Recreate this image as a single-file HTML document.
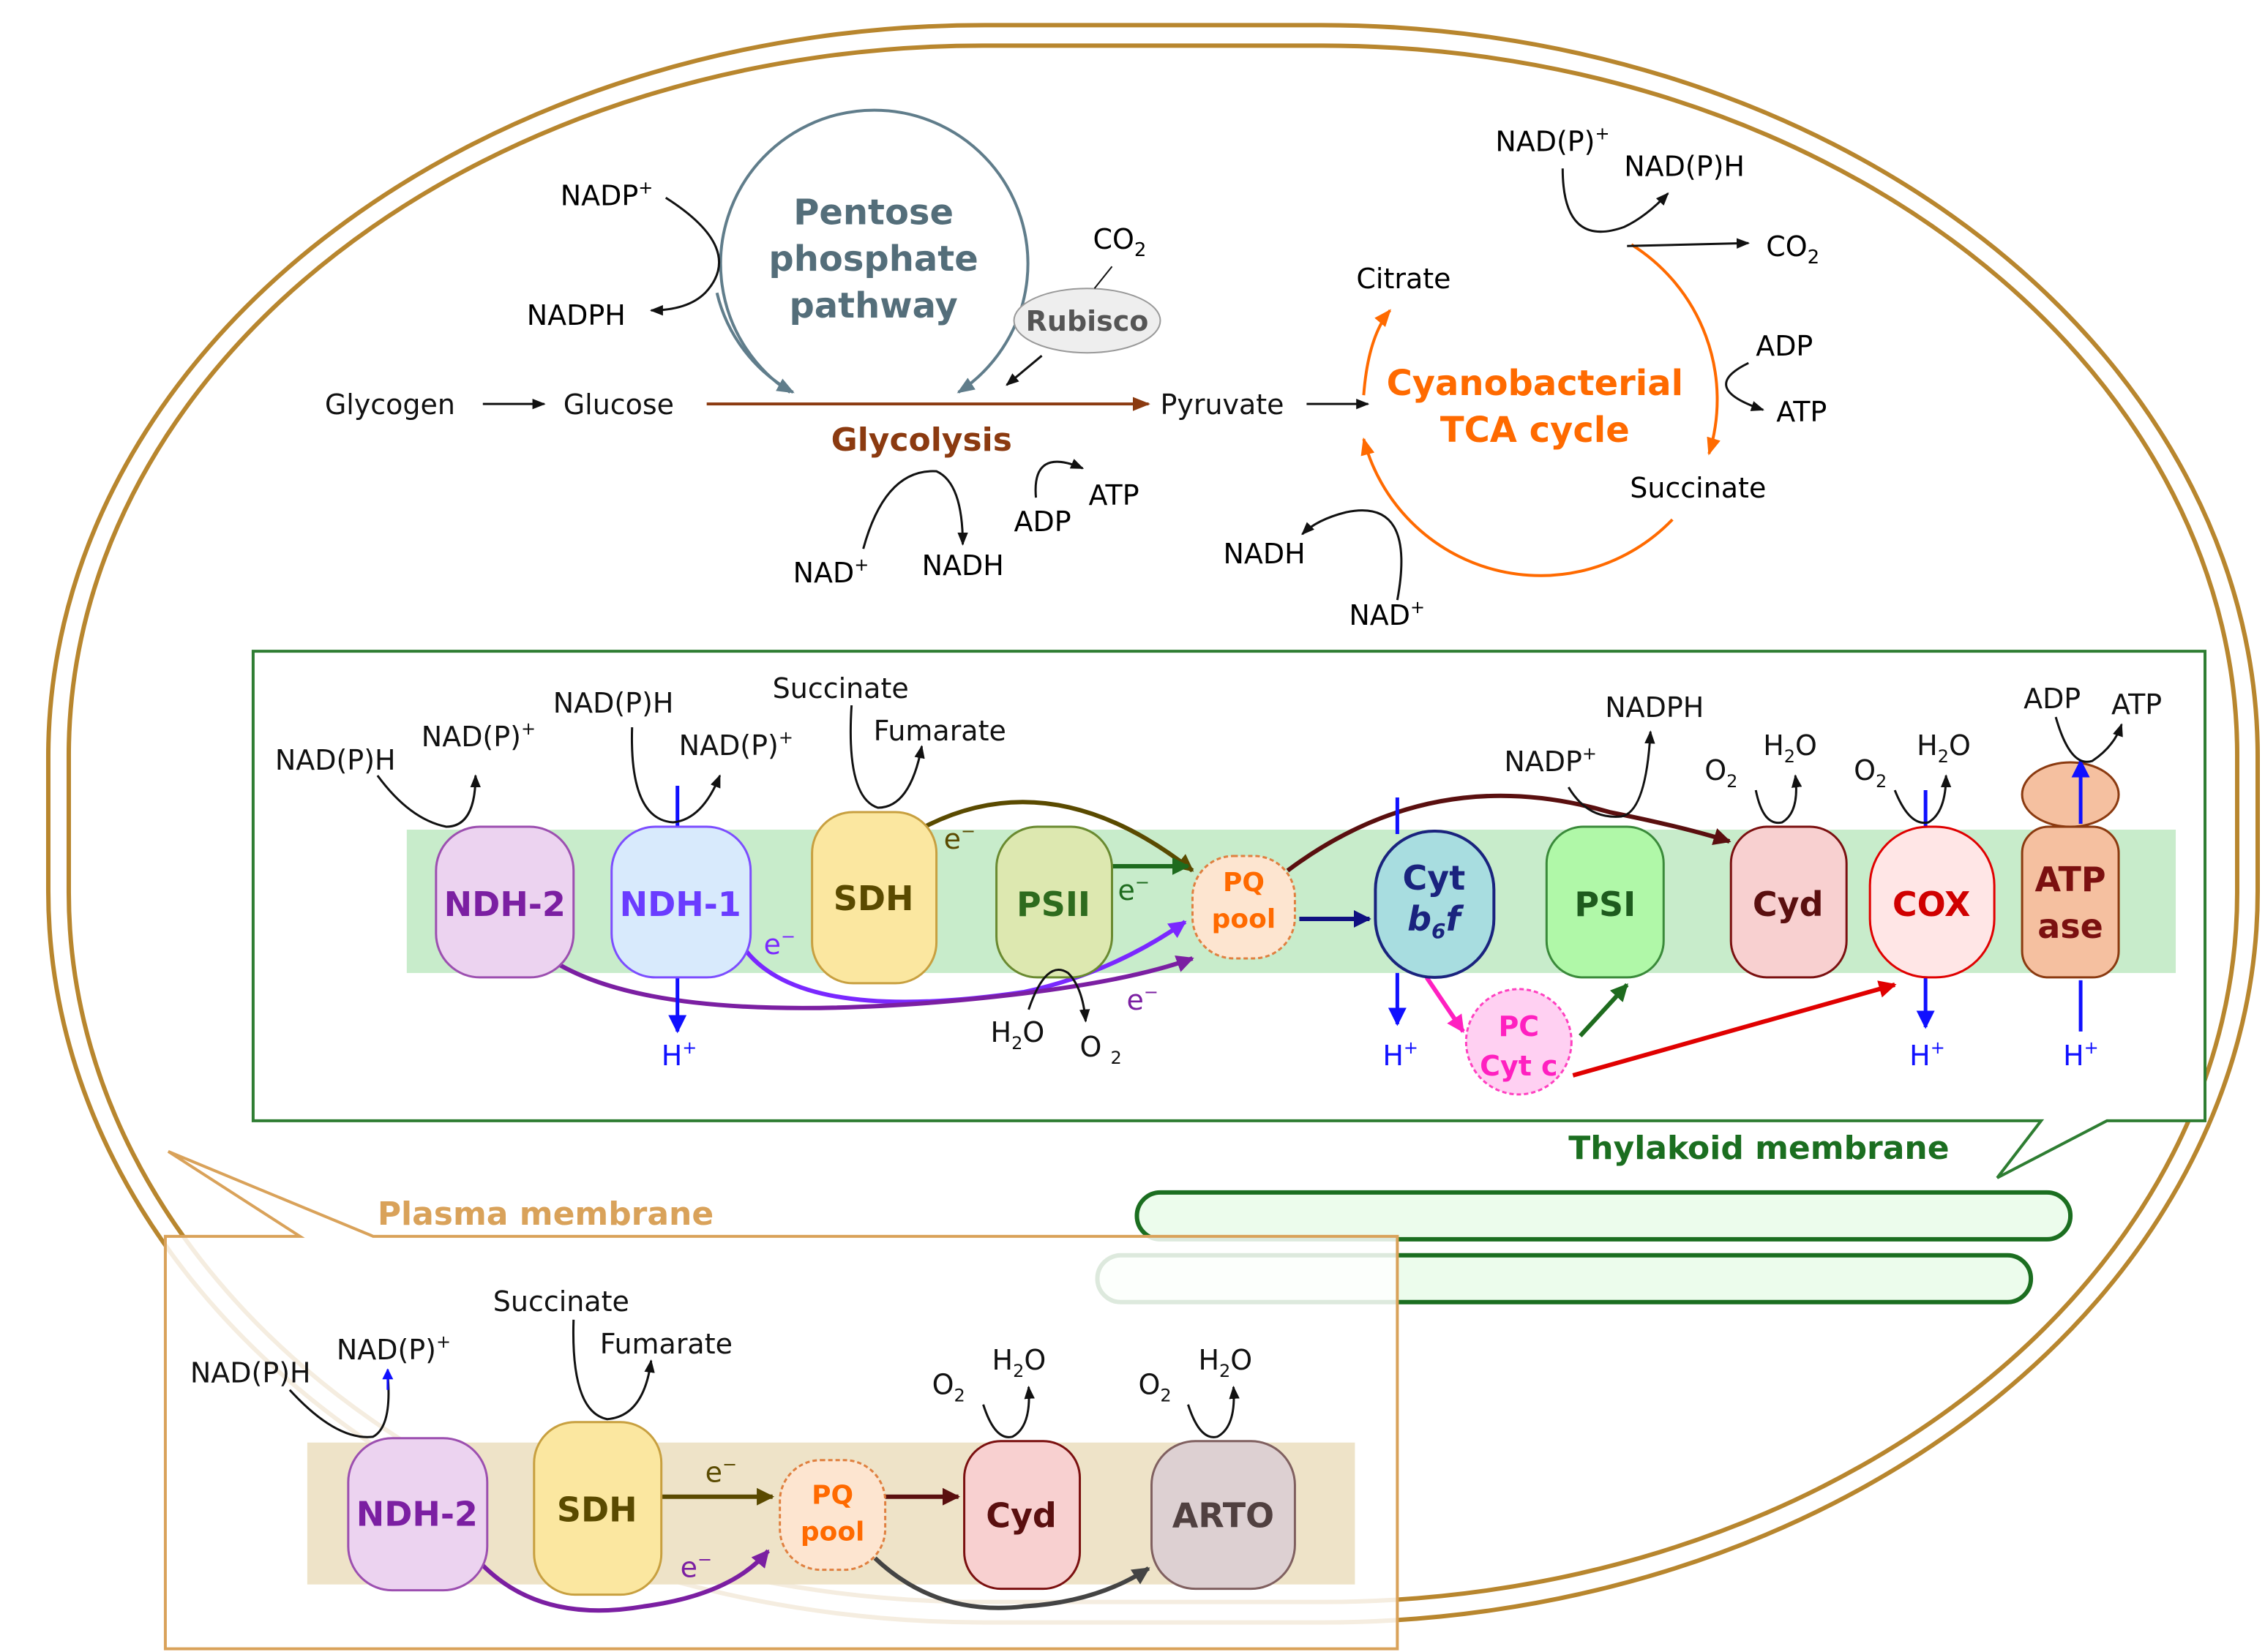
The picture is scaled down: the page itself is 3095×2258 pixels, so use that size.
<!DOCTYPE html>
<html><head><meta charset="utf-8"><style>
html,body{margin:0;padding:0;background:#fff}
svg{display:block}
text{font-family:"DejaVu Sans","Liberation Sans",sans-serif}
</style></head><body>
<svg width="3095" height="2258" viewBox="0 0 1548 1129" xmlns="http://www.w3.org/2000/svg">
<defs>
<marker id="ak" viewBox="0 0 10 10" refX="9" refY="5" markerWidth="6" markerHeight="6" orient="auto"><path d="M0,1 L10,5 L0,9 z" fill="#111"/></marker>
<marker id="ab" viewBox="0 0 10 10" refX="9" refY="5" markerWidth="5" markerHeight="5" orient="auto"><path d="M0,0 L10,5 L0,10 z" fill="#1010ff"/></marker>
<marker id="ag" viewBox="0 0 10 10" refX="9" refY="5" markerWidth="6" markerHeight="6" orient="auto"><path d="M0,1 L10,5 L0,9 z" fill="#607d8b"/></marker>
<marker id="ao" viewBox="0 0 10 10" refX="9" refY="5" markerWidth="6" markerHeight="6" orient="auto"><path d="M0,1 L10,5 L0,9 z" fill="#ff6a00"/></marker>
<marker id="abr" viewBox="0 0 10 10" refX="9" refY="5" markerWidth="6" markerHeight="6" orient="auto"><path d="M0,1 L10,5 L0,9 z" fill="#8b3a10"/></marker>
<marker id="am" viewBox="0 0 10 10" refX="9" refY="5" markerWidth="4" markerHeight="4" orient="auto"><path d="M0,0 L10,5 L0,10 z" fill="#5a0f0f"/></marker>
<marker id="aol" viewBox="0 0 10 10" refX="9" refY="5" markerWidth="4" markerHeight="4" orient="auto"><path d="M0,0 L10,5 L0,10 z" fill="#5a4a00"/></marker>
<marker id="apu" viewBox="0 0 10 10" refX="9" refY="5" markerWidth="4" markerHeight="4" orient="auto"><path d="M0,0 L10,5 L0,10 z" fill="#7b1fa2"/></marker>
<marker id="avi" viewBox="0 0 10 10" refX="9" refY="5" markerWidth="4" markerHeight="4" orient="auto"><path d="M0,0 L10,5 L0,10 z" fill="#7a28ff"/></marker>
<marker id="agr" viewBox="0 0 10 10" refX="9" refY="5" markerWidth="4" markerHeight="4" orient="auto"><path d="M0,0 L10,5 L0,10 z" fill="#1e6b1e"/></marker>
<marker id="anv" viewBox="0 0 10 10" refX="9" refY="5" markerWidth="4" markerHeight="4" orient="auto"><path d="M0,0 L10,5 L0,10 z" fill="#101080"/></marker>
<marker id="amg" viewBox="0 0 10 10" refX="9" refY="5" markerWidth="4" markerHeight="4" orient="auto"><path d="M0,0 L10,5 L0,10 z" fill="#ff20c0"/></marker>
<marker id="ard" viewBox="0 0 10 10" refX="9" refY="5" markerWidth="4" markerHeight="4" orient="auto"><path d="M0,0 L10,5 L0,10 z" fill="#e00000"/></marker>
<marker id="agy" viewBox="0 0 10 10" refX="9" refY="5" markerWidth="4" markerHeight="4" orient="auto"><path d="M0,0 L10,5 L0,10 z" fill="#444"/></marker>
</defs>

<!-- cell -->
<rect x="33" y="17" width="1510" height="1092" rx="640" ry="500" fill="none" stroke="#b8862e" stroke-width="3"/>
<rect x="47" y="31" width="1482" height="1064" rx="625" ry="485" fill="none" stroke="#b8862e" stroke-width="3"/>

<!-- top metabolism -->
<g font-size="19" fill="#111">
<text x="222" y="283">Glycogen</text>
<line x1="330" y1="276" x2="372" y2="276" stroke="#111" stroke-width="1.5" marker-end="url(#ak)"/>
<text x="385" y="283">Glucose</text>
<line x1="483" y1="276" x2="785" y2="276" stroke="#8b3a10" stroke-width="2" marker-end="url(#abr)"/>
<text x="568" y="308" font-weight="bold" font-size="22" fill="#8b3a10">Glycolysis</text>
<text x="793" y="283">Pyruvate</text>
<line x1="893" y1="276" x2="935" y2="276" stroke="#111" stroke-width="1.5" marker-end="url(#ak)"/>
</g>
<path d="M540,268 A105,105 0 1 1 655,268" fill="none" stroke="#607d8b" stroke-width="2" marker-end="url(#ag)"/>
<path d="M490,200 A105,105 0 0 0 542,268" fill="none" stroke="#607d8b" stroke-width="2" marker-end="url(#ag)"/>
<g font-size="24" font-weight="bold" fill="#546e7a" text-anchor="middle">
<text x="597" y="153">Pentose</text><text x="597" y="185">phosphate</text><text x="597" y="217">pathway</text>
</g>
<ellipse cx="743" cy="219" rx="50" ry="22" fill="#eee" stroke="#999"/>
<text x="743" y="226" font-size="19" font-weight="bold" fill="#555" text-anchor="middle">Rubisco</text>
<text x="747" y="170" font-size="19">CO<tspan font-size="13" dy="5">2</tspan></text>
<line x1="760" y1="182" x2="748" y2="197" stroke="#111"/>
<line x1="712" y1="243" x2="688" y2="263" stroke="#111" stroke-width="1.5" marker-end="url(#ak)"/>
<text x="383" y="140" font-size="19">NADP<tspan font-size="12" dy="-8">+</tspan></text>
<text x="360" y="222" font-size="19">NADPH</text>
<path d="M455,135 Q510,170 482,200 Q470,212 445,212" fill="none" stroke="#111" stroke-width="1.5" marker-end="url(#ak)"/>
<text x="542" y="398" font-size="19">NAD<tspan font-size="12" dy="-8">+</tspan></text>
<text x="630" y="393" font-size="19">NADH</text>
<path d="M590,375 Q605,320 640,322 Q658,330 658,372" fill="none" stroke="#111" stroke-width="1.5" marker-end="url(#ak)"/>
<text x="693" y="363" font-size="19">ADP</text>
<text x="744" y="345" font-size="19">ATP</text>
<path d="M708,340 Q705,305 740,320" fill="none" stroke="#111" stroke-width="1.5" marker-end="url(#ak)"/>

<!-- TCA -->
<path d="M1115,167 A125,125 0 0 1 1168,310" fill="none" stroke="#ff6a00" stroke-width="2" marker-end="url(#ao)"/>
<path d="M1143,355 A125,125 0 0 1 932,300" fill="none" stroke="#ff6a00" stroke-width="2" marker-end="url(#ao)"/>
<path d="M932,270 Q935,230 950,212" fill="none" stroke="#ff6a00" stroke-width="2" marker-end="url(#ao)"/>
<g font-size="24" font-weight="bold" fill="#ff6a00" text-anchor="middle">
<text x="1049" y="270">Cyanobacterial</text><text x="1049" y="302">TCA cycle</text>
</g>
<text x="927" y="197" font-size="19">Citrate</text>
<text x="1114" y="340" font-size="19">Succinate</text>
<text x="1022" y="103" font-size="19">NAD(P)<tspan font-size="12" dy="-8">+</tspan></text>
<text x="1110" y="120" font-size="19">NAD(P)H</text>
<path d="M1068,115 Q1068,170 1110,155 Q1125,148 1140,132" fill="none" stroke="#111" stroke-width="1.5" marker-end="url(#ak)"/>
<line x1="1112" y1="168" x2="1195" y2="166" stroke="#111" stroke-width="1.5" marker-end="url(#ak)"/>
<text x="1207" y="175" font-size="19">CO<tspan font-size="13" dy="5">2</tspan></text>
<text x="1200" y="243" font-size="19">ADP</text>
<text x="1214" y="288" font-size="19">ATP</text>
<path d="M1195,248 Q1160,265 1205,280" fill="none" stroke="#111" stroke-width="1.5" marker-end="url(#ak)"/>
<text x="836" y="385" font-size="19">NADH</text>
<text x="922" y="427" font-size="19">NAD<tspan font-size="12" dy="-8">+</tspan></text>
<path d="M955,410 Q968,340 920,350 Q900,355 890,365" fill="none" stroke="#111" stroke-width="1.5" marker-end="url(#ak)"/>

<!-- Thylakoid box -->
<path d="M173,445 H1507 V766 H1440 L1365,805 L1395,766 H173 Z" fill="#fff" stroke="#2e7d32" stroke-width="2"/>
<text x="1072" y="792" font-size="22" font-weight="bold" fill="#1b6e20">Thylakoid membrane</text>
<rect x="278" y="567" width="1209" height="98" fill="#c8eccb"/>
<rect x="777" y="815" width="638" height="32" rx="16" fill="#ecfcec" stroke="#1b6e20" stroke-width="3"/>
<rect x="750" y="858" width="638" height="32" rx="16" fill="#ecfcec" stroke="#1b6e20" stroke-width="3"/>

<path d="M632,565 Q720,520 815,595" fill="none" stroke="#5a4a00" stroke-width="3" marker-end="url(#aol)"/>
<text x="645" y="580" font-size="19" fill="#5a4a00">e<tspan font-size="12" dy="-8">−</tspan></text>
<line x1="760" y1="592" x2="812" y2="592" stroke="#1e6b1e" stroke-width="3" marker-end="url(#agr)"/>
<text x="764" y="615" font-size="19" fill="#1e6b1e">e<tspan font-size="12" dy="-8">−</tspan></text>
<path d="M510,650 Q550,700 700,678 Q760,665 810,630" fill="none" stroke="#7a28ff" stroke-width="3" marker-end="url(#avi)"/>
<text x="522" y="652" font-size="19" fill="#7a28ff">e<tspan font-size="12" dy="-8">−</tspan></text>
<path d="M380,658 Q450,700 640,685 Q760,675 815,655" fill="none" stroke="#7b1fa2" stroke-width="3" marker-end="url(#apu)"/>
<text x="770" y="690" font-size="19" fill="#7b1fa2">e<tspan font-size="12" dy="-8">−</tspan></text>
<path d="M880,595 Q980,520 1100,555 Q1150,565 1182,575" fill="none" stroke="#5a0f0f" stroke-width="3" marker-end="url(#am)"/>
<line x1="888" y1="628" x2="936" y2="628" stroke="#101080" stroke-width="3" marker-end="url(#anv)"/>
<line x1="975" y1="668" x2="1000" y2="705" stroke="#ff20c0" stroke-width="3" marker-end="url(#amg)"/>
<line x1="1080" y1="708" x2="1112" y2="673" stroke="#1e6b1e" stroke-width="3" marker-end="url(#agr)"/>
<line x1="1075" y1="735" x2="1295" y2="673" stroke="#e00000" stroke-width="3" marker-end="url(#ard)"/>

<g stroke="#1010ff" stroke-width="2.5">
<line x1="463" y1="537" x2="463" y2="565"/>
<line x1="463" y1="668" x2="463" y2="705" marker-end="url(#ab)"/>
<line x1="955" y1="545" x2="955" y2="570"/>
<line x1="955" y1="665" x2="955" y2="700" marker-end="url(#ab)"/>
<line x1="1316" y1="540" x2="1316" y2="565"/>
<line x1="1316" y1="668" x2="1316" y2="702" marker-end="url(#ab)"/>
<line x1="1422" y1="705" x2="1422" y2="670"/>
</g>
<g font-size="19" fill="#1010ff">
<text x="452" y="728">H<tspan font-size="12" dy="-8">+</tspan></text>
<text x="945" y="728">H<tspan font-size="12" dy="-8">+</tspan></text>
<text x="1305" y="728">H<tspan font-size="12" dy="-8">+</tspan></text>
<text x="1410" y="728">H<tspan font-size="12" dy="-8">+</tspan></text>
</g>

<rect x="298" y="565" width="94" height="103" rx="30" fill="#ecd3f0" stroke="#9c4fb0" stroke-width="1.5"/>
<text x="345" y="626" font-size="23" font-weight="bold" fill="#7b1fa2" text-anchor="middle">NDH-2</text>
<rect x="418" y="565" width="95" height="103" rx="30" fill="#d8eafc" stroke="#7c4dff" stroke-width="1.5"/>
<text x="465" y="626" font-size="23" font-weight="bold" fill="#6a3cff" text-anchor="middle">NDH-1</text>
<rect x="555" y="555" width="85" height="117" rx="28" fill="#fbe7a0" stroke="#c8a040" stroke-width="1.5"/>
<text x="597" y="622" font-size="23" font-weight="bold" fill="#5a4a00" text-anchor="middle">SDH</text>
<rect x="681" y="565" width="79" height="103" rx="28" fill="#dde8b0" stroke="#6a8a30" stroke-width="1.5"/>
<text x="720" y="626" font-size="23" font-weight="bold" fill="#2e6b1e" text-anchor="middle">PSII</text>
<rect x="815" y="585" width="70" height="70" rx="28" fill="#fde5d0" stroke="#e08040" stroke-width="1.5" stroke-dasharray="3,2"/>
<text x="850" y="609" font-size="18" font-weight="bold" fill="#ff6a00" text-anchor="middle">PQ</text>
<text x="850" y="634" font-size="18" font-weight="bold" fill="#ff6a00" text-anchor="middle">pool</text>
<rect x="940" y="568" width="81" height="100" rx="40" fill="#a8dde0" stroke="#1a237e" stroke-width="2"/>
<text x="980" y="608" font-size="23" font-weight="bold" fill="#1a237e" text-anchor="middle">Cyt</text>
<text x="980" y="636" font-size="23" font-weight="bold" font-style="italic" fill="#1a237e" text-anchor="middle">b<tspan font-size="14" dy="5">6</tspan><tspan dy="-5">f</tspan></text>
<rect x="1057" y="565" width="80" height="103" rx="25" fill="#b0f8a8" stroke="#3a8a3a" stroke-width="1.5"/>
<text x="1097" y="626" font-size="23" font-weight="bold" fill="#1e5b1e" text-anchor="middle">PSI</text>
<rect x="1183" y="565" width="79" height="103" rx="25" fill="#f8d0d0" stroke="#7b1010" stroke-width="1.5"/>
<text x="1222" y="626" font-size="23" font-weight="bold" fill="#5a0f0f" text-anchor="middle">Cyd</text>
<rect x="1278" y="565" width="85" height="103" rx="40" fill="#ffe6e6" stroke="#e00000" stroke-width="1.5"/>
<text x="1320" y="626" font-size="23" font-weight="bold" fill="#d00000" text-anchor="middle">COX</text>
<ellipse cx="1415" cy="543" rx="33" ry="22" fill="#f5c0a0" stroke="#8b3a10" stroke-width="1.5"/>
<rect x="1382" y="565" width="66" height="103" rx="18" fill="#f5c0a0" stroke="#8b3a10" stroke-width="1.5"/>
<text x="1415" y="609" font-size="23" font-weight="bold" fill="#7b1010" text-anchor="middle">ATP</text>
<text x="1415" y="641" font-size="23" font-weight="bold" fill="#7b1010" text-anchor="middle">ase</text>
<line x1="1422" y1="563" x2="1422" y2="520" stroke="#1010ff" stroke-width="2.5" marker-end="url(#ab)"/>
<circle cx="1038" cy="712" r="36" fill="#ffd0f2" stroke="#ff40c0" stroke-width="1.5" stroke-dasharray="3,2"/>
<text x="1038" y="708" font-size="19" font-weight="bold" fill="#ff20c0" text-anchor="middle">PC</text>
<text x="1038" y="735" font-size="19" font-weight="bold" fill="#ff20c0" text-anchor="middle">Cyt c</text>

<g font-size="19" fill="#111">
<text x="188" y="526">NAD(P)H</text>
<text x="288" y="510">NAD(P)<tspan font-size="12" dy="-8">+</tspan></text>
<path d="M258,530 Q280,560 305,565 Q325,565 325,530" fill="none" stroke="#111" stroke-width="1.5" marker-end="url(#ak)"/>
<text x="378" y="487">NAD(P)H</text>
<text x="464" y="516">NAD(P)<tspan font-size="12" dy="-8">+</tspan></text>
<path d="M432,497 Q430,560 460,562 Q480,560 492,530" fill="none" stroke="#111" stroke-width="1.5" marker-end="url(#ak)"/>
<text x="528" y="477">Succinate</text>
<text x="597" y="506">Fumarate</text>
<path d="M582,482 Q578,545 600,552 Q622,552 630,510" fill="none" stroke="#111" stroke-width="1.5" marker-end="url(#ak)"/>
<text x="677" y="712">H<tspan font-size="12" dy="5">2</tspan><tspan dy="-5">O</tspan></text>
<text x="738" y="722">O <tspan font-size="12" dy="5">2</tspan></text>
<path d="M703,690 Q715,655 730,665 Q740,675 742,698" fill="none" stroke="#111" stroke-width="1.5" marker-end="url(#ak)"/>
<text x="1097" y="490">NADPH</text>
<text x="1028" y="527">NADP<tspan font-size="12" dy="-8">+</tspan></text>
<path d="M1072,538 Q1085,560 1108,558 Q1125,555 1128,500" fill="none" stroke="#111" stroke-width="1.5" marker-end="url(#ak)"/>
<text x="1165" y="533">O<tspan font-size="12" dy="5">2</tspan></text>
<text x="1205" y="516">H<tspan font-size="12" dy="5">2</tspan><tspan dy="-5">O</tspan></text>
<path d="M1200,540 Q1205,565 1218,562 Q1230,555 1227,530" fill="none" stroke="#111" stroke-width="1.5" marker-end="url(#ak)"/>
<text x="1267" y="533">O<tspan font-size="12" dy="5">2</tspan></text>
<text x="1310" y="516">H<tspan font-size="12" dy="5">2</tspan><tspan dy="-5">O</tspan></text>
<path d="M1295,540 Q1305,565 1318,562 Q1330,555 1330,530" fill="none" stroke="#111" stroke-width="1.5" marker-end="url(#ak)"/>
<text x="1383" y="484">ADP</text>
<text x="1443" y="488">ATP</text>
<path d="M1405,490 Q1415,525 1430,520 Q1445,510 1450,495" fill="none" stroke="#111" stroke-width="1.5" marker-end="url(#ak)"/>
</g>

<!-- Plasma box -->
<path d="M113,845 H205 L115,787 L255,845 H955 V1127 H113 Z" fill="#fff" fill-opacity="0.85" stroke="#d9a25a" stroke-width="2"/>
<text x="258" y="837" font-size="22" font-weight="bold" fill="#d9a25a">Plasma membrane</text>
<rect x="210" y="986" width="716" height="97" fill="#eee3c8"/>
<line x1="452" y1="1023" x2="528" y2="1023" stroke="#5a4a00" stroke-width="3" marker-end="url(#aol)"/>
<text x="482" y="1013" font-size="19" fill="#5a4a00">e<tspan font-size="12" dy="-8">−</tspan></text>
<path d="M330,1070 Q370,1110 440,1098 Q500,1090 525,1060" fill="none" stroke="#7b1fa2" stroke-width="3" marker-end="url(#apu)"/>
<text x="465" y="1078" font-size="19" fill="#7b1fa2">e<tspan font-size="12" dy="-8">−</tspan></text>
<line x1="605" y1="1023" x2="655" y2="1023" stroke="#5a0f0f" stroke-width="3" marker-end="url(#am)"/>
<path d="M598,1065 Q640,1105 700,1098 Q750,1095 785,1072" fill="none" stroke="#444" stroke-width="3" marker-end="url(#agy)"/>
<rect x="238" y="983" width="95" height="104" rx="30" fill="#ecd3f0" stroke="#9c4fb0" stroke-width="1.5"/>
<text x="285" y="1043" font-size="23" font-weight="bold" fill="#7b1fa2" text-anchor="middle">NDH-2</text>
<rect x="365" y="972" width="87" height="118" rx="28" fill="#fbe7a0" stroke="#c8a040" stroke-width="1.5"/>
<text x="408" y="1040" font-size="23" font-weight="bold" fill="#5a4a00" text-anchor="middle">SDH</text>
<rect x="533" y="998" width="72" height="75" rx="28" fill="#fde5d0" stroke="#e08040" stroke-width="1.5" stroke-dasharray="3,2"/>
<text x="569" y="1028" font-size="18" font-weight="bold" fill="#ff6a00" text-anchor="middle">PQ</text>
<text x="569" y="1053" font-size="18" font-weight="bold" fill="#ff6a00" text-anchor="middle">pool</text>
<rect x="659" y="985" width="79" height="101" rx="25" fill="#f8d0d0" stroke="#7b1010" stroke-width="1.5"/>
<text x="698" y="1044" font-size="23" font-weight="bold" fill="#5a0f0f" text-anchor="middle">Cyd</text>
<rect x="787" y="985" width="98" height="101" rx="30" fill="#ddd0d2" stroke="#806060" stroke-width="1.5"/>
<text x="836" y="1044" font-size="23" font-weight="bold" fill="#504040" text-anchor="middle">ARTO</text>
<g font-size="19" fill="#111">
<text x="130" y="945">NAD(P)H</text>
<text x="230" y="929">NAD(P)<tspan font-size="12" dy="-8">+</tspan></text>
<path d="M198,950 Q230,985 255,982 Q268,975 265,940" fill="none" stroke="#111" stroke-width="1.5"/>
<line x1="265" y1="950" x2="265" y2="936" stroke="#1010ff" stroke-width="1.5" marker-end="url(#ab)"/>
<text x="337" y="896">Succinate</text>
<text x="410" y="925">Fumarate</text>
<path d="M392,902 Q390,965 415,970 Q440,968 445,930" fill="none" stroke="#111" stroke-width="1.5" marker-end="url(#ak)"/>
<text x="637" y="953">O<tspan font-size="12" dy="5">2</tspan></text>
<text x="678" y="936">H<tspan font-size="12" dy="5">2</tspan><tspan dy="-5">O</tspan></text>
<path d="M672,960 Q680,985 692,982 Q705,975 703,948" fill="none" stroke="#111" stroke-width="1.5" marker-end="url(#ak)"/>
<text x="778" y="953">O<tspan font-size="12" dy="5">2</tspan></text>
<text x="819" y="936">H<tspan font-size="12" dy="5">2</tspan><tspan dy="-5">O</tspan></text>
<path d="M812,960 Q820,985 832,982 Q845,975 843,948" fill="none" stroke="#111" stroke-width="1.5" marker-end="url(#ak)"/>
</g>
</svg>
</body></html>
